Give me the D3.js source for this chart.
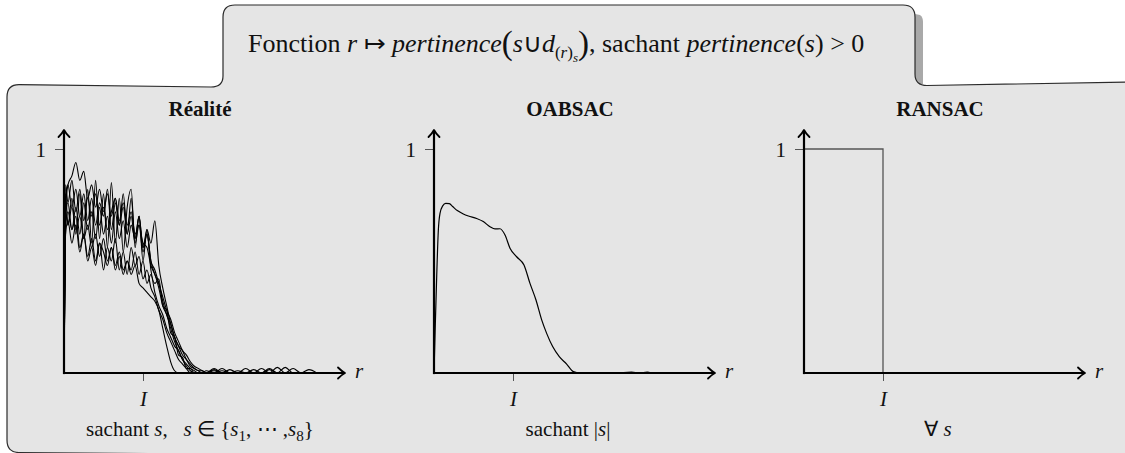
<!DOCTYPE html>
<html>
<head>
<meta charset="utf-8">
<script src="https://cdn.jsdelivr.net/npm/d3@7"></script>
<style>
  body { margin: 0; background: #fff; }
  svg { display: block; }
</style>
</head>
<body>
<svg id="chart" width="1125" height="453"></svg>
<script>
// ---- data ---------------------------------------------------------------
// sampling radii for the measured relevance curves (I = 1)
const rGrid = [0, 0.02, 0.05, 0.10, 0.15, 0.20, 0.25, 0.30, 0.35, 0.40, 0.45, 0.50,
  0.55, 0.60, 0.65, 0.70, 0.75, 0.80, 0.85, 0.90, 0.95, 1.00, 1.05, 1.10, 1.15, 1.20,
  1.25, 1.30, 1.35, 1.40, 1.45, 1.50, 1.55, 1.60, 1.65, 1.70, 1.75, 1.80, 1.90, 2.00,
  2.10, 2.20, 2.30, 2.40, 2.50, 2.60, 2.70, 2.80, 2.90, 3.00, 3.10, 3.20];

// measured relevance for the eight samples s1 .. s8
const s1 = [0, 0.74, 0.84, 0.88, 0.94, 0.86, 0.90, 0.78, 0.84, 0.74, 0.82, 0.72, 0.80, 0.70, 0.78, 0.68, 0.76, 0.66,
  0.72, 0.62, 0.66, 0.58, 0.56, 0.48, 0.44, 0.38, 0.30, 0.26, 0.20, 0.14, 0.10, 0.06, 0.03, 0.01, 0, 0,
  0, 0.01, 0, 0.02, 0, 0, 0, 0.015, 0, 0, 0, 0, 0, 0, 0, 0];
const s2 = [0, 0.80, 0.66, 0.78, 0.62, 0.80, 0.60, 0.82, 0.58, 0.86, 0.60, 0.80, 0.56, 0.85, 0.58, 0.78, 0.54, 0.74,
  0.82, 0.56, 0.70, 0.50, 0.64, 0.46, 0.40, 0.42, 0.30, 0.28, 0.18, 0.16, 0.08, 0.07, 0.02, 0.02, 0, 0,
  0, 0, 0.02, 0, 0, 0.01, 0, 0, 0.02, 0, 0.025, 0, 0, 0, 0, 0];
const s3 = [0, 0.70, 0.76, 0.64, 0.70, 0.56, 0.62, 0.50, 0.56, 0.48, 0.58, 0.46, 0.56, 0.50, 0.60, 0.46, 0.54, 0.44,
  0.56, 0.48, 0.52, 0.42, 0.46, 0.38, 0.34, 0.28, 0.24, 0.18, 0.14, 0.10, 0.06, 0.04, 0.02, 0, 0, 0,
  0, 0, 0, 0, 0.015, 0, 0, 0, 0, 0, 0, 0.025, 0, 0, 0.015, 0];
const s4 = [0, 0.66, 0.72, 0.64, 0.74, 0.62, 0.76, 0.64, 0.72, 0.60, 0.74, 0.62, 0.70, 0.58, 0.72, 0.60, 0.68, 0.56,
  0.66, 0.60, 0.70, 0.56, 0.64, 0.58, 0.68, 0.48, 0.38, 0.30, 0.22, 0.16, 0.12, 0.08, 0.06, 0.03, 0.02, 0.01,
  0.01, 0, 0.015, 0, 0, 0, 0.02, 0, 0, 0.015, 0, 0, 0.02, 0, 0, 0];
const s5 = [0, 0.72, 0.66, 0.74, 0.64, 0.70, 0.60, 0.66, 0.56, 0.62, 0.52, 0.60, 0.50, 0.56, 0.48, 0.54, 0.46, 0.50,
  0.44, 0.48, 0.40, 0.38, 0.36, 0.34, 0.32, 0.28, 0.20, 0.12, 0.05, 0.01, 0, 0, 0, 0, 0, 0,
  0, 0, 0, 0, 0, 0, 0, 0, 0, 0, 0, 0, 0, 0, 0, 0];
const s6 = [0, 0.78, 0.84, 0.74, 0.82, 0.70, 0.80, 0.68, 0.78, 0.66, 0.76, 0.70, 0.82, 0.64, 0.76, 0.66, 0.80, 0.62,
  0.78, 0.60, 0.70, 0.56, 0.62, 0.50, 0.46, 0.40, 0.34, 0.28, 0.24, 0.18, 0.14, 0.10, 0.08, 0.05, 0.03, 0.02,
  0.01, 0, 0, 0, 0, 0, 0, 0, 0, 0, 0, 0, 0, 0, 0, 0];
const s7 = [0, 0.62, 0.68, 0.58, 0.66, 0.54, 0.62, 0.52, 0.60, 0.50, 0.58, 0.54, 0.48, 0.56, 0.46, 0.52, 0.44, 0.50,
  0.46, 0.54, 0.44, 0.50, 0.40, 0.44, 0.36, 0.30, 0.26, 0.20, 0.16, 0.12, 0.10, 0.06, 0.04, 0.02, 0.01, 0,
  0, 0, 0, 0.01, 0, 0, 0, 0, 0, 0.02, 0, 0, 0, 0, 0, 0];
const s8 = [0, 0.84, 0.76, 0.86, 0.72, 0.82, 0.68, 0.78, 0.70, 0.80, 0.66, 0.74, 0.64, 0.72, 0.78, 0.66, 0.74, 0.62,
  0.70, 0.58, 0.66, 0.54, 0.62, 0.50, 0.44, 0.40, 0.32, 0.26, 0.22, 0.16, 0.12, 0.10, 0.06, 0.04, 0.02, 0.01,
  0, 0, 0.01, 0, 0, 0, 0, 0, 0, 0, 0, 0, 0, 0, 0, 0];

// OABSAC expected relevance given |s|
const oabsacR = [0, 0.017, 0.034, 0.055, 0.076, 0.11, 0.148, 0.194, 0.236, 0.295, 0.371, 0.435, 0.54,
  0.624, 0.709, 0.772, 0.835, 0.899, 0.962, 1.046, 1.139, 1.215, 1.291, 1.363, 1.426, 1.502, 1.586,
  1.679, 1.764, 1.848, 2.0, 2.3, 2.5, 2.6, 2.7, 2.75];
const oabsacV = [0, 0.222, 0.43, 0.638, 0.713, 0.746, 0.757, 0.756, 0.743, 0.725, 0.71, 0.701, 0.69,
  0.676, 0.653, 0.643, 0.644, 0.616, 0.557, 0.519, 0.482, 0.40, 0.326, 0.237, 0.177, 0.118, 0.073,
  0.04, 0.006, 0, 0, 0, 0.004, 0, 0.004, 0];

// RANSAC: step function at the inlier threshold I
const ransacR = [0, 1, 1];
const ransacV = [1, 1, 0];

const panelTitles = ["Réalité", "OABSAC", "RANSAC"];
const yTickValues = [1];
const yTickLabels = ["1"];
const xTickValues = [1];
const xTickLabels = ["I"];
const xAxisName = "r";

// ---- drawing ------------------------------------------------------------
const FONT = "'Liberation Serif', 'Times New Roman', serif";
const svg = d3.select("#chart").attr("font-family", FONT);

// rounded "folder" shape: a tab holding the title on top of the main panel
const panelPath = [
  "M7,97", "Q7,84.6 19,84.6", "L211,87", "Q223,87 223,76",
  "L223,17", "Q223,5 235,5", "L903,5", "Q915,5 915,17",
  "L915,74", "Q915,85.5 927,85.5", "L1135,82", "L1135,462",
  "L19,452.5", "Q7,452.5 7,440", "Z"
].join(" ");

// drop shadow on the right side of the tab
svg.append("path")
  .attr("d", "M915,14 L920,15 Q923,17 923,22 L923,84 L915,84 Z")
  .attr("fill", "#a9a9a9");

svg.append("path")
  .attr("d", panelPath)
  .attr("fill", "#e5e5e5")
  .attr("stroke", "#2b2b2b")
  .attr("stroke-width", 1.2);

// title line
const title = svg.append("text").attr("x", 248).attr("y", 52)
  .attr("font-family", FONT).attr("font-size", 26).attr("fill", "#111");
const tpart = (t, opt = {}) => {
  const ts = title.append("tspan").text(t);
  if (opt.i) ts.attr("font-style", "italic");
  if (opt.size) ts.attr("font-size", opt.size);
  if (opt.y) ts.attr("y", opt.y);
  return ts;
};
tpart("Fonction ");
tpart("r", { i: true });
tpart(" \u21A6 ", { y: 52 });
tpart("pertinence", { i: true });
tpart("(", { size: 33, y: 54 });
tpart("s", { i: true, y: 52 });
tpart("\u222A");
tpart("d", { i: true });
tpart("(", { size: 17, y: 58 });
tpart("r", { i: true, size: 17 });
tpart(")", { size: 17 });
tpart("s", { i: true, size: 13, y: 62 });
tpart(")", { size: 33, y: 54 });
tpart(", sachant ", { y: 52 });
tpart("pertinence", { i: true });
tpart("(");
tpart("s", { i: true });
tpart(") > 0");

// panel layout
const panelX0 = [64, 434, 804];
const axisY = 373;
const xLen = 281;
const yOne = 149;

const rich = (sel, parts, size) => {
  parts.forEach(p => {
    const ts = sel.append("tspan").text(p.t);
    if (p.i) ts.attr("font-style", "italic");
    if (p.sub) ts.attr("font-size", size * 0.72).attr("dy", 5);
    if (p.up) ts.attr("dy", -5);
  });
};

const notes = [
  [{ t: "sachant " }, { t: "s", i: true }, { t: ",\u2002 " }, { t: "s", i: true }, { t: " \u2208 {" },
   { t: "s", i: true }, { t: "1", sub: true }, { t: ", \u22EF ,", up: true }, { t: "s", i: true },
   { t: "8", sub: true }, { t: "}", up: true }],
  [{ t: "sachant |" }, { t: "s", i: true }, { t: "|" }],
  [{ t: "\u2200 " }, { t: "s", i: true }]
];
const noteX = [200, 568, 938];
const titleX = [200, 570, 940];

function arrowHead(g, x, y, dir) {
  // open, slightly curved arrow tip
  const p = dir === "right"
    ? `M${x - 7},${y - 5.5} Q${x - 3},${y - 1.5} ${x},${y} Q${x - 3},${y + 1.5} ${x - 7},${y + 5.5}`
    : `M${x - 5.5},${y + 7} Q${x - 1.5},${y + 3} ${x},${y} Q${x + 1.5},${y + 3} ${x + 5.5},${y + 7}`;
  g.append("path").attr("d", p).attr("fill", "none").attr("stroke", "#000")
    .attr("stroke-width", 1.8).attr("stroke-linecap", "round").attr("stroke-linejoin", "round");
}

const seriesReal = [s1, s2, s3, s4, s5, s6, s7, s8];

panelX0.forEach((x0, k) => {
  const x = d3.scaleLinear().domain([0, 1]).range([x0, x0 + 79]);
  const y = d3.scaleLinear().domain([0, 1]).range([axisY, yOne]);
  const g = svg.append("g");

  // panel heading
  g.append("text").attr("x", titleX[k]).attr("y", 116).attr("text-anchor", "middle")
    .attr("font-family", FONT).attr("fill", "#111")
    .attr("font-weight", "bold").attr("font-size", 21).text(panelTitles[k]);

  // y tick "1"
  const yAxis = d3.axisLeft(y).tickValues(yTickValues).tickFormat((d, i) => yTickLabels[i])
    .tickSize(9).tickPadding(9);
  const ya = g.append("g").attr("transform", `translate(${x0},0)`).call(yAxis);
  ya.attr("font-family", FONT);
  ya.select(".domain").remove();
  ya.selectAll(".tick line").attr("stroke", "#555").attr("stroke-width", 1);
  ya.selectAll(".tick text").attr("font-size", 21).attr("font-family", FONT)
    .attr("fill", "#111").attr("dy", "0.35em");

  // x tick "I"
  const xAxis = d3.axisBottom(x).tickValues(xTickValues).tickFormat((d, i) => xTickLabels[i])
    .tickSize(8).tickPadding(6);
  const xa = g.append("g").attr("transform", `translate(0,${axisY})`).call(xAxis);
  xa.attr("font-family", FONT);
  xa.select(".domain").remove();
  xa.selectAll(".tick line").attr("stroke", "#555").attr("stroke-width", 1);
  xa.selectAll(".tick text").attr("font-size", 21).attr("font-family", FONT)
    .attr("font-style", "italic").attr("fill", "#111").attr("dy", "0.9em");

  // data
  const line = d3.line().x(d => x(d[0])).y(d => y(d[1]));
  if (k === 0) {
    seriesReal.forEach(s => {
      g.append("path").datum(rGrid.map((r, i) => [r, s[i]]))
        .attr("d", line.curve(d3.curveMonotoneX))
        .attr("fill", "none").attr("stroke", "#000").attr("stroke-width", 1.1);
    });
  } else if (k === 1) {
    g.append("path").datum(oabsacR.map((r, i) => [r, oabsacV[i]]))
      .attr("d", line.curve(d3.curveMonotoneX))
      .attr("fill", "none").attr("stroke", "#000").attr("stroke-width", 1.2);
  } else {
    g.append("path").datum(ransacR.map((r, i) => [r, ransacV[i]]))
      .attr("d", line.curve(d3.curveLinear))
      .attr("fill", "none").attr("stroke", "#555").attr("stroke-width", 1.3);
  }

  // axes with arrows
  const xEnd = x0 + xLen;
  const yTop = 130;
  g.append("line").attr("x1", x0).attr("x2", xEnd - 0.5).attr("y1", axisY).attr("y2", axisY)
    .attr("stroke", "#000").attr("stroke-width", 2.2);
  g.append("line").attr("x1", x0).attr("x2", x0).attr("y1", axisY + 1.1).attr("y2", yTop + 0.5)
    .attr("stroke", "#000").attr("stroke-width", 2.2);
  arrowHead(g, xEnd, axisY, "right");
  arrowHead(g, x0, yTop, "up");

  g.append("text").attr("x", xEnd + 10).attr("y", axisY + 5).attr("font-size", 21)
    .attr("font-family", FONT).attr("fill", "#111")
    .attr("font-style", "italic").text(xAxisName);

  // caption below the panel
  const cap = g.append("text").attr("x", noteX[k]).attr("y", 436).attr("text-anchor", "middle")
    .attr("font-family", FONT).attr("fill", "#111").attr("font-size", 21);
  rich(cap, notes[k], 21);
});
</script>
</body>
</html>
